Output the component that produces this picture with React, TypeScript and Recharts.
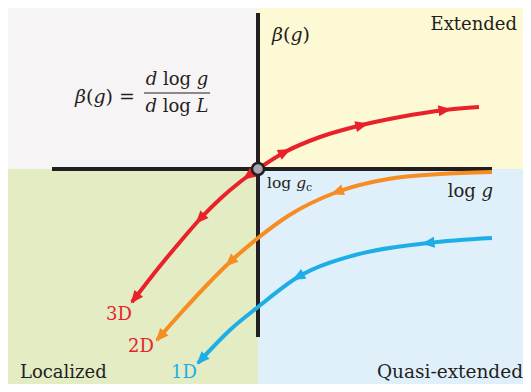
import React from "react";
import {
  ComposedChart,
  XAxis,
  YAxis,
  Line,
  ReferenceArea,
  ReferenceLine,
  ReferenceDot,
} from "recharts";

// Beta function diagram: x = log g (relative to log g_c), y = beta(g)
const red3D = [
  { x: -6.3, y: -6.65 },
  { x: -4.9, y: -4.85 },
  { x: -3.9, y: -3.65 },
  { x: -2.9, y: -2.5 },
  { x: -1.9, y: -1.5 },
  { x: -0.9, y: -0.65 },
  { x: -0.5, y: -0.35 },
  { x: 0, y: 0 },
  { x: 1.35, y: 0.85 },
  { x: 3.1, y: 1.6 },
  { x: 5.2, y: 2.2 },
  { x: 7.1, y: 2.6 },
  { x: 9.35, y: 2.95 },
  { x: 11.05, y: 3.1 },
];
const orange2D = [
  { x: -5.05, y: -8.55 },
  { x: -3.9, y: -7.25 },
  { x: -2.65, y: -5.9 },
  { x: -1.4, y: -4.65 },
  { x: 0, y: -3.45 },
  { x: 1.5, y: -2.35 },
  { x: 3.95, y: -1.15 },
  { x: 6.5, y: -0.5 },
  { x: 9.1, y: -0.25 },
  { x: 11.7, y: -0.15 },
];
const blue1D = [
  { x: -3.0, y: -9.7 },
  { x: -2.2, y: -8.85 },
  { x: -1.4, y: -8.05 },
  { x: 0, y: -6.9 },
  { x: 2.0, y: -5.4 },
  { x: 4.85, y: -4.3 },
  { x: 8.5, y: -3.7 },
  { x: 11.7, y: -3.45 },
];
const redArrows = [-6.3, -2.9, -0.5, 1.35, 5.2, 9.35];
const orangeArrows = [-5.05, -1.4, 3.95];
const blueArrows = [-3.0, 2.0, 8.5];

const X_DOMAIN: [number, number] = [-12.9, 13.65];
const Y_DOMAIN: [number, number] = [-11.15, 8.45];

const RED = "#e9212b";
const ORANGE = "#f68d22";
const BLUE = "#1daee8";
const AXIS = "#231f20";
const SERIF = "'DejaVu Serif', serif";

type Pt = { x: number; y: number };

function makeArrowDot(data: Pt[], arrows: number[], color: string, flow: (x: number) => number) {
  return (props: any) => {
    const { cx, cy, index, payload, points } = props;
    const key = `arrow-${color}-${index}`;
    if (!payload || !arrows.includes(payload.x) || cx == null || cy == null) {
      return <g key={key} />;
    }
    const i = index;
    let p0: any, p1: any;
    if (points && points.length) {
      p0 = points[Math.max(0, i - 1)];
      p1 = points[Math.min(points.length - 1, i + 1)];
    } else {
      const a = data[Math.max(0, i - 1)];
      const b = data[Math.min(data.length - 1, i + 1)];
      p0 = { x: a.x * 20, y: -a.y * 20 };
      p1 = { x: b.x * 20, y: -b.y * 20 };
    }
    let ang = (Math.atan2(p1.y - p0.y, p1.x - p0.x) * 180) / Math.PI;
    if (flow(payload.x) < 0) ang += 180;
    const isEnd = i === 0 || i === data.length - 1;
    const L = 13;
    const W = 5.5;
    const poly = isEnd
      ? `2,0 ${-L + 2},${-W} ${-L + 2},${W}`
      : `${L / 2},0 ${-L / 2},${-W} ${-L / 2},${W}`;
    return (
      <g key={key} transform={`translate(${cx},${cy}) rotate(${ang})`}>
        <polygon points={poly} fill={color} stroke="none" />
      </g>
    );
  };
}

export default function App() {
  return (
    <div style={{ margin: -8, width: 531, height: 392, position: "relative", background: "#ffffff" }}>
      <ComposedChart width={531} height={392} margin={{ top: 0, right: 0, bottom: 0, left: 0 }}>
        <XAxis type="number" dataKey="x" domain={X_DOMAIN} hide allowDataOverflow />
        <YAxis type="number" dataKey="y" domain={Y_DOMAIN} hide allowDataOverflow />
        <ReferenceArea x1={-12.5} x2={0} y1={0} y2={8.35} fill="#f7f4f6" fillOpacity={1} stroke="none" ifOverflow="visible" />
        <ReferenceArea x1={0} x2={13.65} y1={0} y2={8.35} fill="#fdf9d4" fillOpacity={1} stroke="none" ifOverflow="visible" />
        <ReferenceArea x1={-12.5} x2={0} y1={-11.15} y2={0} fill="#e3ecc3" fillOpacity={1} stroke="none" ifOverflow="visible" />
        <ReferenceArea x1={0} x2={13.65} y1={-11.15} y2={0} fill="#e0f0fa" fillOpacity={1} stroke="none" ifOverflow="visible" />
        <ReferenceLine
          segment={[{ x: -10.3, y: 0 }, { x: 11.7, y: 0 }]}
          stroke={AXIS}
          strokeWidth={4}
          ifOverflow="visible"
        />
        <ReferenceLine
          segment={[{ x: 0, y: 7.8 }, { x: 0, y: -8.4 }]}
          stroke={AXIS}
          strokeWidth={4}
          ifOverflow="visible"
        />
        <Line
          data={orange2D}
          dataKey="y"
          type="monotone"
          stroke={ORANGE}
          strokeWidth={4}
          dot={makeArrowDot(orange2D, orangeArrows, ORANGE, () => -1)}
          activeDot={false}
          isAnimationActive={false}
        />
        <Line
          data={blue1D}
          dataKey="y"
          type="monotone"
          stroke={BLUE}
          strokeWidth={4}
          dot={makeArrowDot(blue1D, blueArrows, BLUE, () => -1)}
          activeDot={false}
          isAnimationActive={false}
        />
        <Line
          data={red3D}
          dataKey="y"
          type="monotone"
          stroke={RED}
          strokeWidth={4}
          dot={makeArrowDot(red3D, redArrows, RED, (x) => (x > 0 ? 1 : -1))}
          activeDot={false}
          isAnimationActive={false}
        />
        <ReferenceDot x={0} y={0} r={6} fill="#a8a7b2" stroke={AXIS} strokeWidth={2.5} ifOverflow="visible" />
      </ComposedChart>
      <svg
        width={531}
        height={392}
        style={{ position: "absolute", left: 0, top: 0, pointerEvents: "none" }}
      >
        <g fontFamily={SERIF} fill="#231f20">
          <text x={75} y={103} fontSize={19}>
            <tspan fontStyle="italic">β</tspan>
            <tspan>(</tspan>
            <tspan fontStyle="italic">g</tspan>
            <tspan>) =</tspan>
          </text>
          <text x={177} y={85} fontSize={18} textAnchor="middle">
            <tspan fontStyle="italic">d</tspan>
            <tspan> log </tspan>
            <tspan fontStyle="italic">g</tspan>
          </text>
          <line x1={144} x2={210} y1={93} y2={93} stroke="#231f20" strokeWidth={1.2} />
          <text x={177} y={112} fontSize={18} textAnchor="middle">
            <tspan fontStyle="italic">d</tspan>
            <tspan> log </tspan>
            <tspan fontStyle="italic">L</tspan>
          </text>
          <text x={272} y={41} fontSize={19}>
            <tspan fontStyle="italic">β</tspan>
            <tspan>(</tspan>
            <tspan fontStyle="italic">g</tspan>
            <tspan>)</tspan>
          </text>
          <text x={517} y={30} fontSize={18} textAnchor="end">Extended</text>
          <text x={20} y={378} fontSize={18}>Localized</text>
          <text x={523} y={378} fontSize={18.5} textAnchor="end">Quasi-extended</text>
          <text x={493} y={197} fontSize={18} textAnchor="end">
            <tspan>log </tspan>
            <tspan fontStyle="italic">g</tspan>
          </text>
          <text x={267} y={188} fontSize={15.5}>
            <tspan>log </tspan>
            <tspan fontStyle="italic">g</tspan>
            <tspan fontSize={11} dy={3}>c</tspan>
          </text>
          <text x={119} y={320} fontSize={18} textAnchor="middle" fill={RED}>3D</text>
          <text x={141} y={352} fontSize={18} textAnchor="middle" fill={RED}>2D</text>
          <text x={184} y={378} fontSize={18} textAnchor="middle" fill={BLUE}>1D</text>
        </g>
      </svg>
    </div>
  );
}
